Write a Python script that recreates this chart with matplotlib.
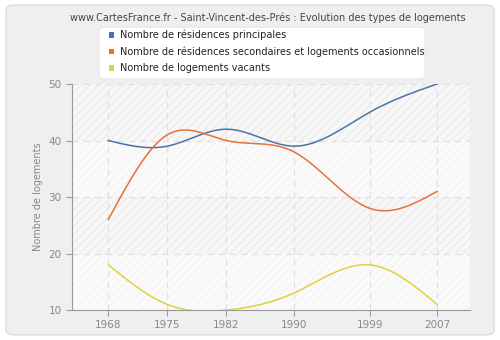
import matplotlib
matplotlib.use("Agg")
import matplotlib.pyplot as plt
from matplotlib.patches import FancyBboxPatch
import numpy as np

years = [1968, 1975, 1982, 1990, 1999, 2007]
principales = [40, 39, 42, 39, 45, 50]
secondaires = [26, 41, 40, 38, 28, 31]
vacants = [18, 11, 10, 13, 18, 11]

labels = [
    "Nombre de résidences principales",
    "Nombre de résidences secondaires et logements occasionnels",
    "Nombre de logements vacants",
]
colors = ["#4a74a8", "#e8703a", "#e0d23c"]
title = "www.CartesFrance.fr - Saint-Vincent-des-Prés : Evolution des types de logements"

plt.rcParams["hatch.linewidth"] = 0.7


def natural_spline(x, y, n=300):
    x = np.asarray(x, float)
    y = np.asarray(y, float)
    k = len(x)
    h = np.diff(x)
    A = np.zeros((k, k))
    r = np.zeros(k)
    A[0, 0] = A[-1, -1] = 1
    for i in range(1, k - 1):
        A[i, i - 1] = h[i - 1]
        A[i, i] = 2 * (h[i - 1] + h[i])
        A[i, i + 1] = h[i]
        r[i] = 6 * ((y[i + 1] - y[i]) / h[i] - (y[i] - y[i - 1]) / h[i - 1])
    m = np.linalg.solve(A, r)
    xs = np.linspace(x[0], x[-1], n)
    idx = np.clip(np.searchsorted(x, xs) - 1, 0, k - 2)
    x0, x1 = x[idx], x[idx + 1]
    hh = x1 - x0
    a = (x1 - xs) / hh
    b = (xs - x0) / hh
    ys = a * y[idx] + b * y[idx + 1] + ((a ** 3 - a) * m[idx] + (b ** 3 - b) * m[idx + 1]) * hh ** 2 / 6
    return xs, ys


fig = plt.figure(figsize=(5, 3.4), dpi=100)
fig.patch.set_facecolor("white")
bg = FancyBboxPatch((0.012, 0.015), 0.976, 0.97,
                    boxstyle="round,pad=0,rounding_size=0.015",
                    transform=fig.transFigure, facecolor="#efefef",
                    edgecolor="#dcdcdc", lw=1, zorder=-5)
fig.patches.append(bg)

ax = fig.add_axes([0.144, 0.088, 0.796, 0.665])
ax.set_zorder(2)
ax.set_facecolor("#f9f9f9")

# alternating hatched bands
bands = [(10, 20), (20, 30), (30, 40), (40, 50)]
for i, (lo, hi) in enumerate(bands):
    strong = i % 2 == 1
    ax.axhspan(lo, hi, facecolor="#f7f7f7" if strong else "#fafafa",
               edgecolor="#e9e9e9" if strong else "#f3f3f3",
               hatch="////", lw=0, zorder=0)

for vals, c in zip([principales, secondaires, vacants], colors):
    xs, ys = natural_spline(years, vals)
    ax.plot(xs, ys, color=c, lw=1.1, zorder=3, clip_on=True)

ax.set_xlim(1963.7, 2010.9)
ax.set_ylim(10, 50)
ax.set_xticks(years)
ax.set_yticks([10, 20, 30, 40, 50])
ax.grid(True, color="#e0e0e0", linestyle=(0, (5, 4)), lw=0.9, zorder=1)
for s in ["top", "right"]:
    ax.spines[s].set_visible(False)
for s in ["left", "bottom"]:
    ax.spines[s].set_color("#999999")
ax.tick_params(colors="#999999", labelcolor="#888888", labelsize=7.5, length=4)
ax.set_ylabel("Nombre de logements", color="#888888", fontsize=7)

fig.text(0.535, 0.948, title, ha="center", va="center", fontsize=7, color="#444444")

# legend box
fig.patches.append(FancyBboxPatch((0.198, 0.768), 0.652, 0.152,
                                  boxstyle="round,pad=0,rounding_size=0.012",
                                  transform=fig.transFigure, facecolor="white",
                                  edgecolor="#e6e6e6", lw=0.8, zorder=1))
for i, (lab, c) in enumerate(zip(labels, colors)):
    yy = 0.897 - i * 0.0485
    fig.patches.append(plt.Rectangle((0.218, yy - 0.008), 0.010, 0.016,
                                     transform=fig.transFigure, facecolor=c,
                                     edgecolor="none", zorder=2))
    fig.text(0.240, yy, lab, ha="left", va="center", fontsize=7, color="#222222")

fig.savefig("out.png", dpi=100)
